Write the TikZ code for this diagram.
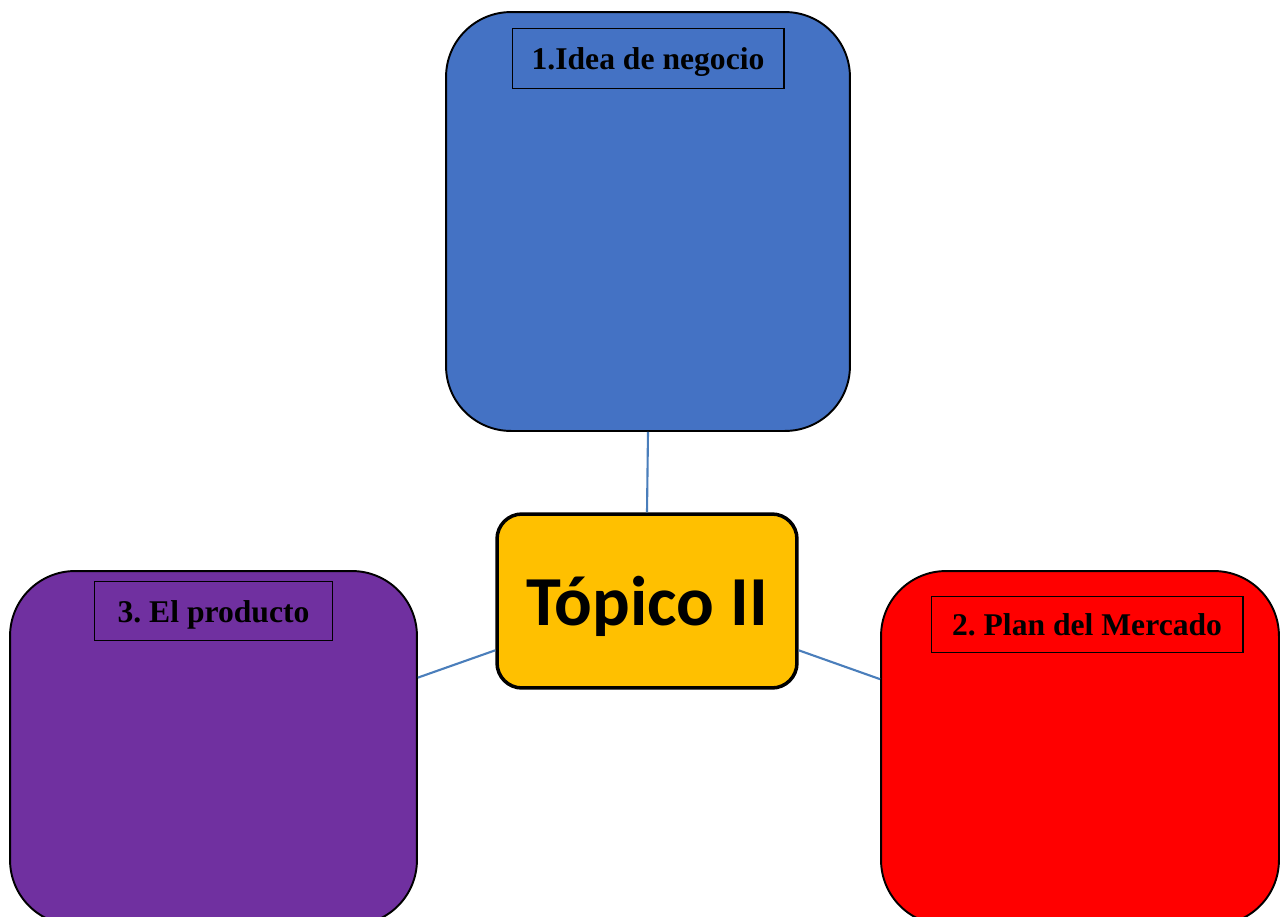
\documentclass[tikz,border=0pt]{standalone}
\usepackage{fontspec}
\setmainfont{Liberation Serif}
\newfontfamily\topicfont{Carlito}
\usetikzlibrary{positioning}
\frenchspacing

\definecolor{azulidea}{HTML}{4472C4}
\definecolor{amarillo}{HTML}{FFC000}
\definecolor{morado}{HTML}{7030A0}
\definecolor{rojo}{HTML}{FF0000}
\definecolor{enlace}{HTML}{4A7EBB}

\begin{document}
\begin{tikzpicture}[x=0.02cm, y=-0.02cm,
    caja/.style={draw=black, line width=1.1pt, rounded corners=1.3cm, inner sep=0pt},
    etiqueta/.style={draw=black, line width=0.6pt, inner sep=0pt, text depth=0pt, font=\fontsize{18}{21.6}\selectfont\bfseries},
    enlace/.style={draw=enlace, line width=1.2pt}]

    % Marco
    \clip (0,0) rectangle (1286,917);

    % Tema central
    \node[caja, fill=amarillo, line width=2pt, rounded corners=0.5cm,
          minimum width=6cm, minimum height=3.48cm, text depth=0pt,
          font=\topicfont\fontsize{40}{48}\selectfont\bfseries] (topico) at (647,601) {Tópico II};

    % Cajas de los apartados
    \node[caja, fill=azulidea, minimum width=8.08cm, minimum height=8.38cm] (idea) at (648,221.5) {};
    \node[caja, fill=morado, minimum width=8.14cm, minimum height=7.08cm] (producto) at (213.5,748) {};
    \node[caja, fill=rojo, minimum width=7.96cm, minimum height=7.08cm] (mercado) at (1080,748) {};

    % Titulos
    \node[etiqueta, minimum width=5.44cm, minimum height=1.2cm, below=0.34cm of idea.north] (ideaTit) {1.Idea de negocio};
    \node[etiqueta, minimum width=4.76cm, minimum height=1.18cm, below=0.22cm of producto.north] (productoTit) {3. El producto};
    \node[etiqueta, minimum width=6.24cm, minimum height=1.12cm, below=0.52cm of mercado.north, xshift=0.14cm] (mercadoTit) {2. Plan del Mercado};

    % Enlaces
    \draw[enlace] (idea.south) -- (topico.north);
    \draw[enlace] (topico.198) -- (producto.19);
    \draw[enlace] (topico.342) -- (mercado.161);

\end{tikzpicture}
\end{document}
